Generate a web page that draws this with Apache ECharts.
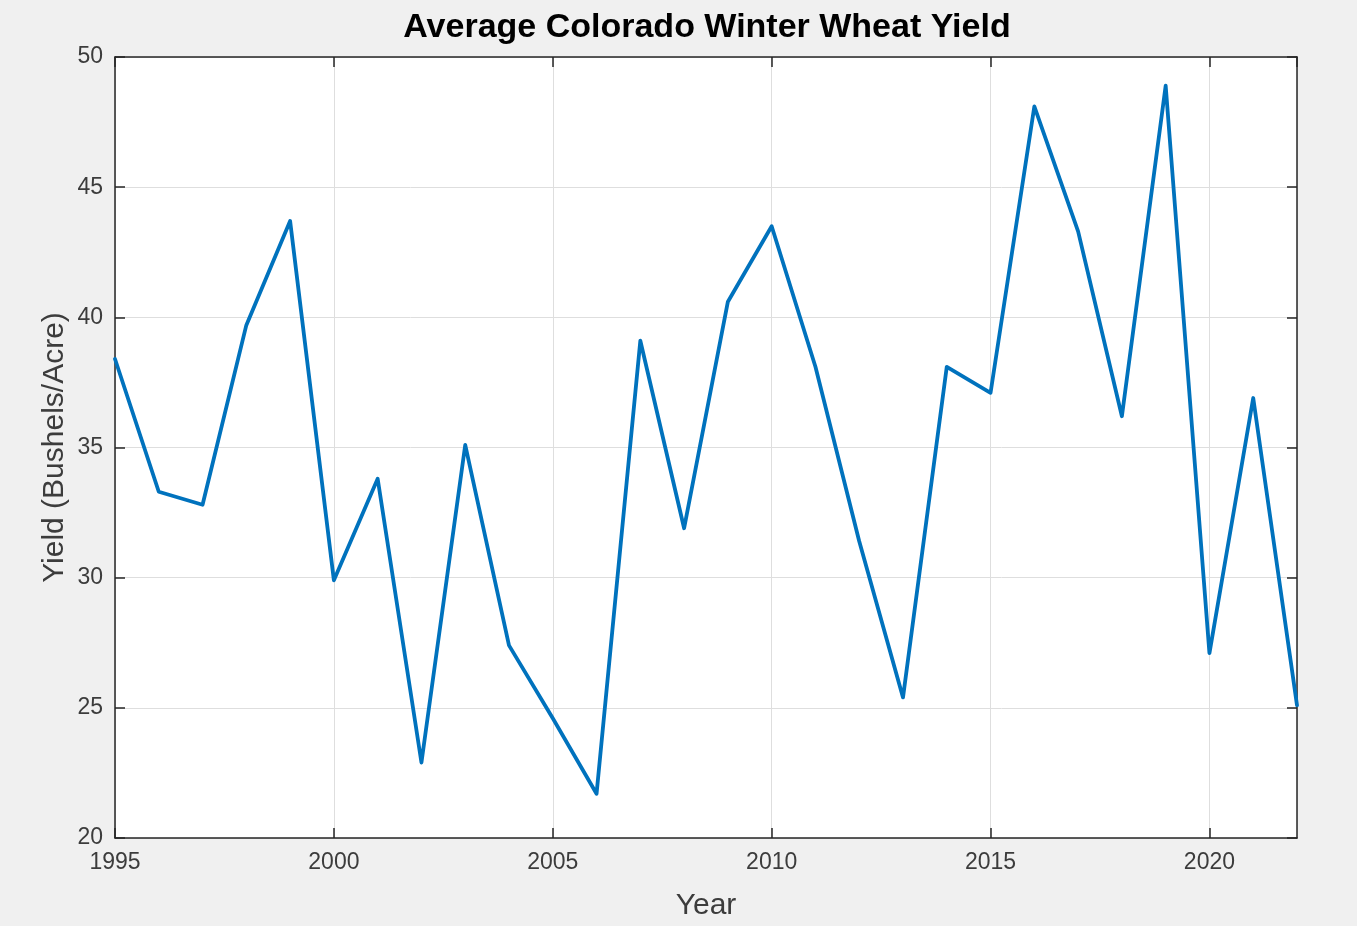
<!DOCTYPE html>
<html>
<head>
<meta charset="utf-8">
<script src="https://cdn.jsdelivr.net/npm/echarts@6/dist/echarts.min.js"></script>
<style>
html,body{margin:0;padding:0;background:#f0f0f0;}
#chart{width:1357px;height:926px;}
</style>
</head>
<body>
<div id="chart"></div>
<script>
const titleText = 'Average Colorado Winter Wheat Yield';
const xAxisName = 'Year';
const yAxisName = 'Yield (Bushels/Acre)';
const years = [1995,1996,1997,1998,1999,2000,2001,2002,2003,2004,2005,2006,2007,2008,2009,2010,2011,2012,2013,2014,2015,2016,2017,2018,2019,2020,2021,2022];
const yields = [38.4,33.3,32.8,39.7,43.7,29.9,33.8,22.9,35.1,27.4,24.6,21.7,39.1,31.9,40.6,43.5,38.1,31.4,25.4,38.1,37.1,48.1,43.3,36.2,48.9,27.1,36.9,25.1];
const xRange = [1995, 2022];
const yRange = [20, 50];

const FONT = '"Liberation Sans", Arial, Helvetica, sans-serif';
const axisColor = '#262626';
const labelColor = '#3c3c3c';

const chart = echarts.init(document.getElementById('chart'), null, {renderer:'canvas'});
const common = {
  axisLine:{show:true, onZero:false, lineStyle:{color:axisColor, width:1.5}},
  axisTick:{show:true, inside:true, length:10, lineStyle:{color:axisColor, width:1.5}},
};
chart.setOption({
  backgroundColor:'#f0f0f0',
  animation:false,
  graphic:[{
    type:'text', x:707, y:28,
    style:{text:titleText, fontFamily:FONT, fontWeight:'bold', fontSize:34, fill:'#000',
      align:'center', verticalAlign:'middle', textAlign:'center', textVerticalAlign:'middle'}
  }],
  grid:{left:115, right:60, top:57, bottom:88, show:true, backgroundColor:'#ffffff', borderWidth:0},
  xAxis:[{
    type:'value', min:xRange[0], max:xRange[1], interval:5, position:'bottom',
    name:xAxisName, nameLocation:'middle', nameGap:53, nameMoveOverlap:false,
    nameTextStyle:{fontFamily:FONT, fontSize:30, color:labelColor},
    ...common,
    axisLabel:{show:true, margin:13, fontFamily:FONT, fontSize:23, color:labelColor,
      formatter:v=>String(v), showMaxLabel:false},
    splitLine:{show:true, lineStyle:{color:'#dedede', width:1}}
  },{
    type:'value', min:xRange[0], max:xRange[1], interval:5, position:'top',
    ...common, axisLabel:{show:false}, splitLine:{show:false}
  }],
  yAxis:[{
    type:'value', min:yRange[0], max:yRange[1], interval:5, position:'left',
    name:yAxisName, nameLocation:'middle', nameGap:45, nameMoveOverlap:false,
    nameTextStyle:{fontFamily:FONT, fontSize:30, color:labelColor},
    ...common,
    axisLabel:{show:true, margin:12, fontFamily:FONT, fontSize:23, color:labelColor},
    splitLine:{show:true, lineStyle:{color:'#dedede', width:1}}
  },{
    type:'value', min:yRange[0], max:yRange[1], interval:5, position:'right',
    ...common, axisLabel:{show:false}, splitLine:{show:false}
  }],
  series:[{
    type:'line', xAxisIndex:0, yAxisIndex:0,
    data: years.map((y,i)=>[y, yields[i]]),
    symbol:'none', clip:true,
    lineStyle:{color:'#0072BD', width:3.8, join:'round', cap:'round'}
  }]
});
</script>
</body>
</html>
